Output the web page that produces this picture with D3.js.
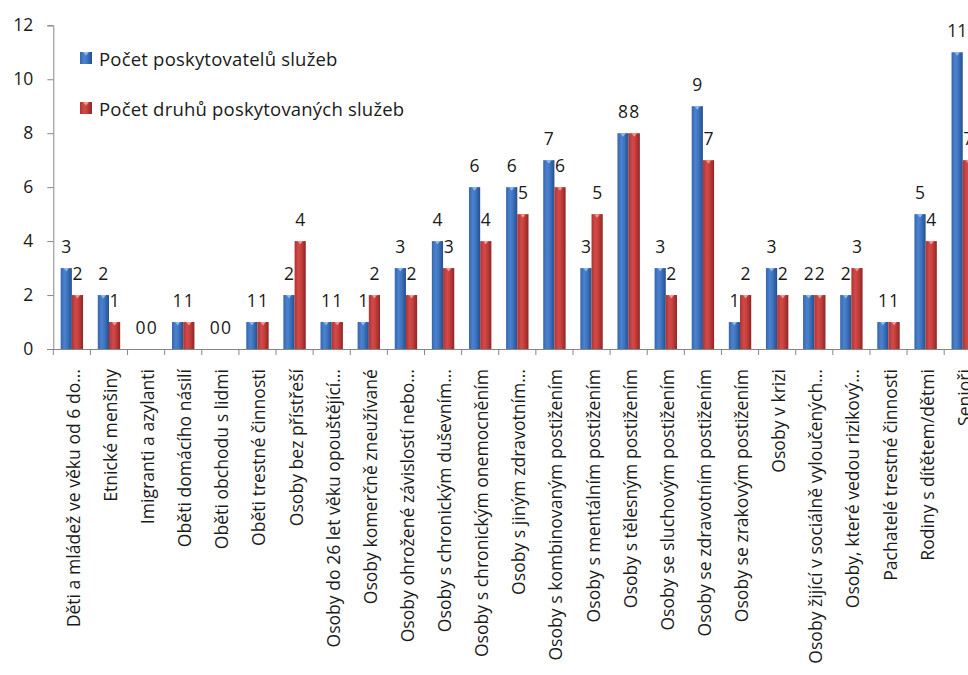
<!DOCTYPE html>
<html><head><meta charset="utf-8">
<script src="https://cdn.jsdelivr.net/npm/d3@7"></script>
<style>body{margin:0;background:#fff;overflow:hidden}svg{display:block}</style>
</head><body>
<svg id="c" width="968" height="675"></svg>
<script>
const categories = [
  "Děti a mládež ve věku od 6 do…",
  "Etnické menšiny",
  "Imigranti a azylanti",
  "Oběti domácího násilí",
  "Oběti obchodu s lidmi",
  "Oběti trestné činnosti",
  "Osoby bez přístřeší",
  "Osoby do 26 let věku opouštějící…",
  "Osoby komerčně zneužívané",
  "Osoby ohrožené  závislostí nebo…",
  "Osoby s chronickým duševním…",
  "Osoby s chronickým onemocněním",
  "Osoby s jiným zdravotním…",
  "Osoby s kombinovaným postižením",
  "Osoby s mentálním postižením",
  "Osoby s tělesným postižením",
  "Osoby se sluchovým postižením",
  "Osoby se zdravotním postižením",
  "Osoby se zrakovým postižením",
  "Osoby v krizi",
  "Osoby žijící v sociálně vyloučených…",
  "Osoby, které vedou rizikový…",
  "Pachatelé trestné činnosti",
  "Rodiny s dítětem/dětmi",
  "Senioři"
];
const providers = [3,2,0,1,0,1,2,1,1,3,4,6,6,7,3,8,3,9,1,3,2,2,1,5,11];
const serviceTypes = [2,1,0,1,0,1,4,1,2,2,3,4,5,6,5,8,2,7,2,2,2,3,1,4,7];
const seriesNames = ["Počet poskytovatelů služeb","Počet druhů poskytovaných služeb"];
const yTicks = [0,2,4,6,8,10,12];

const FONT = "'Open Sans', sans-serif";
const svg = d3.select("#c");
const x0 = 53.3, yBase = 349, yTop = 25.3;
const step = 37.12;
const x = d3.scaleBand().domain(categories).range([x0, x0 + step*categories.length]).paddingInner(0).paddingOuter(0);
const y = d3.scaleLinear().domain([0,12]).range([yBase, yTop]);
const barW = 11.2;

const defs = svg.append("defs");
function grad(id, stops){
  const g = defs.append("linearGradient").attr("id", id).attr("x1","0").attr("x2","1").attr("y1","0").attr("y2","0");
  stops.forEach(s => g.append("stop").attr("offset", s[0]).attr("stop-color", s[1]));
}
grad("gb", [[0,"#3466ad"],[0.35,"#4b82cf"],[0.6,"#3f74bf"],[1,"#244f8c"]]);
grad("gr", [[0,"#b03232"],[0.35,"#d24a48"],[0.6,"#c43f3d"],[1,"#8e2625"]]);
const colors = ["url(#gb)","url(#gr)"];
const tipColors = ["#8fbcef","#f19a96"];

// y axis
const yAxis = d3.axisLeft(y).tickValues(yTicks).tickSize(6).tickPadding(14);
const ya = svg.append("g").attr("transform", `translate(${x0},0)`).call(yAxis);
ya.select(".domain").attr("stroke","#868686");
ya.selectAll(".tick line").attr("stroke","#868686");
ya.selectAll(".tick text").attr("font-family", FONT).attr("font-size", 17.5).attr("fill","#1a1a1a");

// x axis
const xAxis = d3.axisBottom(x).tickSize(0).tickFormat("");
const xa = svg.append("g").attr("transform", `translate(0,${yBase})`).call(xAxis);
xa.select(".domain").attr("stroke","#868686").attr("d", `M${x0-6},0.5H${x0+step*categories.length}`);
xa.selectAll(".tick").remove();
const bounds = categories.map(c => x(c)).concat([x0 + step*categories.length]);
xa.selectAll("line.b").data(bounds).enter().append("line")
  .attr("x1", d => d).attr("x2", d => d).attr("y1", 0).attr("y2", 6).attr("stroke","#868686");

// bars
const series = [providers, serviceTypes];
series.forEach((vals, si) => {
  const g = svg.append("g");
  const data = categories.map((c,i) => ({c, v: vals[i]}));
  const bx = d => x(d.c) + x.bandwidth()/2 - barW + si*barW;
  g.selectAll("rect").data(data.filter(d => d.v > 0)).enter().append("rect")
    .attr("x", bx).attr("width", barW)
    .attr("y", d => y(d.v)).attr("height", d => yBase - y(d.v))
    .attr("fill", colors[si]);
  g.selectAll("path.tip").data(data.filter(d => d.v > 0)).enter().append("path")
    .attr("d", d => { const l = bx(d)+3, r = bx(d)+barW-3, t = y(d.v); return `M${l},${t}L${r},${t}L${(l+r)/2},${t+3.5}Z`; })
    .attr("fill", tipColors[si]);
  svg.append("g").selectAll("text").data(data).enter().append("text")
    .attr("x", d => bx(d) + barW/2).attr("y", d => y(d.v) - 15)
    .attr("text-anchor","middle").attr("dominant-baseline","alphabetic")
    .attr("font-family", FONT).attr("font-size", 17.5).attr("fill","#1a1a1a")
    .text(d => d.v);
});

// category labels
svg.append("g").selectAll("text").data(categories).enter().append("text")
  .attr("transform", d => `translate(${x(d)+x.bandwidth()/2 + 1},369) rotate(-90)`)
  .attr("text-anchor","end").attr("dominant-baseline","central")
  .attr("font-family", FONT).attr("font-size", 17.6).attr("fill","#1a1a1a")
  .text(d => d);

// legend
const lg = svg.append("g");
seriesNames.forEach((n, i) => {
  const yy = 58 + i*50;
  lg.append("rect").attr("x", 80).attr("y", yy-6).attr("width", 12).attr("height", 12).attr("fill", colors[i]);
  lg.append("path").attr("d", `M83,${yy-6}L89,${yy-6}L86,${yy-2.5}Z`).attr("fill", tipColors[i]);
  lg.append("text").attr("x", 99).attr("y", yy).attr("dominant-baseline","central")
    .attr("font-family", FONT).attr("font-size", 18.5).attr("letter-spacing", 0.2).attr("fill","#1a1a1a").text(n);
});
</script>
</body></html>
